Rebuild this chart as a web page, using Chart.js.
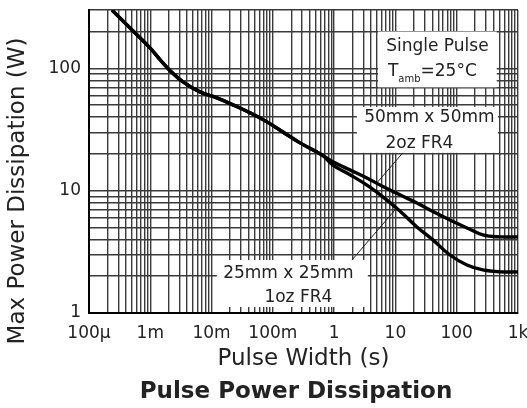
<!DOCTYPE html>
<html>
<head>
<meta charset="utf-8">
<script src="https://cdn.jsdelivr.net/npm/chart.js@4.4.1/dist/chart.umd.min.js"></script>
<style>
  html, body { margin: 0; padding: 0; background: #fff; }
  #wrap { width: 527px; height: 408px; }
</style>
</head>
<body>
<div id="wrap"><canvas id="chart"></canvas></div>
<script>
// pulse width (s), shared by both curves
const pulseWidth = [2.37e-4, 4.67e-4, 9.89e-4, 1.44e-3, 2.09e-3, 3.41e-3, 6.47e-3, 0.0122, 0.0223, 0.0423,
  0.0801, 0.146, 0.277, 0.632, 0.955, 1.81, 3.43, 6.25, 11.8, 22.4, 40.9, 77.5, 147, 267, 507, 1000];

// max power (W)
const power50mm = [300, 214, 147, 118, 96, 77.6, 64.2, 57.4, 50.3, 43.3,
  36.5, 30.2, 24.6, 19.6, 17.2, 14.8, 12.7, 10.8, 9.25, 7.94, 6.75, 5.76, 4.96, 4.35, 4.19, 4.19];
const power25mm = [300, 214, 147, 118, 96, 77.6, 64.2, 57.4, 50.3, 43.3,
  36.5, 30.2, 24.6, 19.6, 16.2, 13.5, 11.1, 8.89, 6.83, 5.05, 3.96, 2.98, 2.47, 2.25, 2.17, 2.17];

const xDecades = [1e-4, 1e-3, 1e-2, 0.1, 1, 10, 100, 1000];
const xDecadeLabels = ['100µ', '1m', '10m', '100m', '1', '10', '100', '1k'];
const yDecades = [1, 10, 100];
const yDecadeLabels = ['1', '10', '100'];

const FONT = 'DejaVu Sans';

// grille log : 1..9 x 10^n
function logTicks(min, max) {
  const ticks = [];
  for (let e = Math.floor(Math.log10(min)); e <= Math.ceil(Math.log10(max)); e++) {
    for (let k = 1; k < 10; k++) {
      const v = k * Math.pow(10, e);
      if (v >= min * 0.999 && v <= max * 1.001) ticks.push({ value: v });
    }
  }
  return ticks;
}

function decadeLabel(value, decades, labels) {
  const i = decades.findIndex(d => Math.abs(Math.log10(d) - Math.log10(value)) < 1e-6);
  return i >= 0 ? labels[i] : '';
}

// boîtes de texte (coordonnées en données)
const notes = [
  { box: [5.2, 450, 70, 200], lines: [
    { text: 'Single Pulse', dx: 0, dy: 19 },
    { text: 'T', sub: 'amb', rest: '=25°C', dx: -5, dy: 44 }
  ] },
  { box: [2.35, 470, 20.4, 48.4], lines: [
    { text: '50mm x 50mm', dx: 2, dy: 15 },
    { text: '2oz FR4', dx: -8, dy: 41 }
  ] },
  { box: [0.0122, 3.55, 1.12, 2.71], lines: [
    { text: '25mm x 25mm', dx: -4, dy: 18 },
    { text: '1oz FR4', dx: 6, dy: 42 }
  ] }
];
const leaders = [
  [13.2, 20.4, 5.0, 11.6],
  [1.95, 2.71, 10.2, 7.1]
];

const notesPlugin = {
  id: 'notes',
  beforeDatasetsDraw(chart) {
    const { ctx, scales: { x, y } } = chart;
    ctx.save();
    notes.forEach(n => {
      const l = x.getPixelForValue(n.box[0]), r = x.getPixelForValue(n.box[1]);
      const b = y.getPixelForValue(n.box[2]), t = y.getPixelForValue(n.box[3]);
      ctx.fillStyle = '#fff';
      ctx.fillRect(l, t, r - l, b - t);
      const cx = (l + r) / 2;
      ctx.fillStyle = '#222';
      ctx.textBaseline = 'alphabetic';
      n.lines.forEach(line => {
        if (!line.sub) {
          ctx.font = '17px ' + FONT;
          ctx.textAlign = 'center';
          ctx.fillText(line.text, cx + line.dx, t + line.dy);
        } else {
          ctx.font = '17px ' + FONT;
          const w1 = ctx.measureText(line.text).width;
          const w3 = ctx.measureText(line.rest).width;
          ctx.font = '10px ' + FONT;
          const w2 = ctx.measureText(line.sub).width;
          let px = cx + line.dx - (w1 + w2 + w3) / 2;
          ctx.textAlign = 'left';
          ctx.font = '17px ' + FONT;
          ctx.fillText(line.text, px, t + line.dy);
          px += w1;
          ctx.font = '10px ' + FONT;
          ctx.fillText(line.sub, px, t + line.dy + 6);
          px += w2;
          ctx.font = '17px ' + FONT;
          ctx.fillText(line.rest, px, t + line.dy);
        }
      });
    });
    ctx.strokeStyle = '#222';
    ctx.lineWidth = 1;
    leaders.forEach(p => {
      ctx.beginPath();
      ctx.moveTo(x.getPixelForValue(p[0]), y.getPixelForValue(p[1]));
      ctx.lineTo(x.getPixelForValue(p[2]), y.getPixelForValue(p[3]));
      ctx.stroke();
    });
    ctx.restore();
  },
  afterDraw(chart) {
    const { ctx, chartArea } = chart;
    ctx.save();
    ctx.fillStyle = '#222';
    ctx.textAlign = 'center';
    ctx.textBaseline = 'alphabetic';
    ctx.font = '23px ' + FONT;
    ctx.fillText('Pulse Width (s)', (chartArea.left + chartArea.right) / 2, 365);
    ctx.font = 'bold 23px ' + FONT;
    ctx.fillText('Pulse Power Dissipation', 296, 398);
    ctx.translate(18, 191);
    ctx.rotate(-Math.PI / 2);
    ctx.textBaseline = 'middle';
    ctx.font = '23px ' + FONT;
    ctx.fillText('Max Power Dissipation (W)', 0, 0);
    ctx.restore();
  }
};

const gridStyle = { color: '#3a3a3a', lineWidth: 1.4, drawTicks: false };

new Chart(document.getElementById('chart').getContext('2d'), {
  type: 'line',
  data: {
    datasets: [{
      label: '50mm x 50mm 2oz FR4',
      data: pulseWidth.map((t, i) => ({ x: t, y: power50mm[i] })),
      borderColor: '#000',
      borderWidth: 3.4,
      pointRadius: 0,
      tension: 0.4,
      fill: false
    }, {
      label: '25mm x 25mm 1oz FR4',
      data: pulseWidth.map((t, i) => ({ x: t, y: power25mm[i] })),
      borderColor: '#000',
      borderWidth: 3.4,
      pointRadius: 0,
      tension: 0.4,
      fill: false
    }]
  },
  options: {
    responsive: true,
    maintainAspectRatio: false,
    animation: false,
    layout: { padding: { top: 10, right: 9, left: 0, bottom: 0 } },
    plugins: { legend: { display: false }, tooltip: { enabled: false } },
    scales: {
      x: {
        type: 'logarithmic',
        min: 1e-4,
        max: 1000,
        grid: gridStyle,
        border: { color: '#000', width: 2 },
        afterBuildTicks: s => { s.ticks = logTicks(1e-4, 1000); },
        afterFit: s => { s.height = 95; s.paddingLeft = 0; s.paddingRight = 0; },
        ticks: {
          autoSkip: false,
          maxRotation: 0,
          padding: 10,
          color: '#222',
          font: { family: FONT, size: 17 },
          callback: v => decadeLabel(v, xDecades, xDecadeLabels)
        }
      },
      y: {
        type: 'logarithmic',
        min: 1,
        max: 300,
        grid: gridStyle,
        border: { color: '#000', width: 2 },
        afterBuildTicks: s => { s.ticks = logTicks(1, 300); },
        afterFit: s => { s.width = 89; s.paddingTop = 0; s.paddingBottom = 0; },
        ticks: {
          autoSkip: false,
          padding: 8,
          color: '#222',
          font: { family: FONT, size: 17 },
          callback: v => decadeLabel(v, yDecades, yDecadeLabels)
        }
      }
    }
  },
  plugins: [notesPlugin]
});
</script>
</body>
</html>
